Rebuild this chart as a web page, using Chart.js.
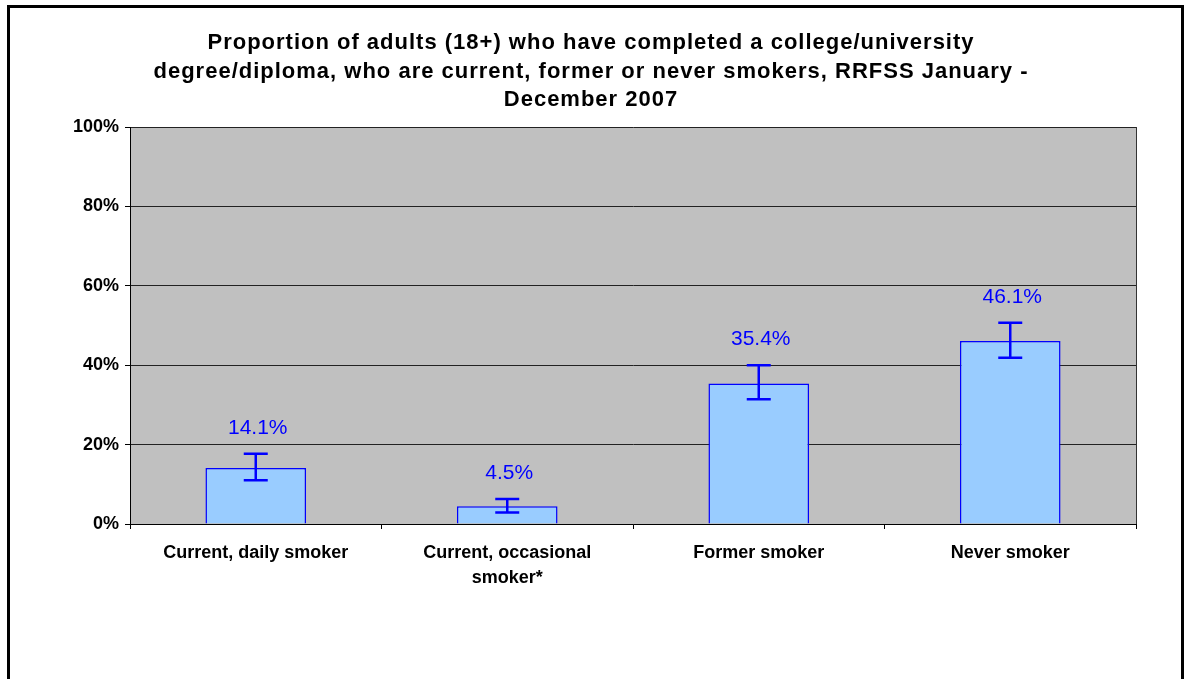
<!DOCTYPE html>
<html>
<head>
<meta charset="utf-8">
<script src="https://cdn.jsdelivr.net/npm/chart.js@4.4.0/dist/chart.umd.min.js"></script>
<style>
  html, body { margin:0; padding:0; background:#fff; overflow:hidden; }
  #wrap { position:relative; width:1187px; height:679px; }
  #frame { position:absolute; left:7px; top:5px; width:1177px; height:700px; border:3px solid #000; box-sizing:border-box; border-bottom:none; pointer-events:none; }
  canvas { position:absolute; left:0; top:0; }
</style>
</head>
<body>
<div id="wrap">
  <canvas id="chart" width="1187" height="679"></canvas>
  <div id="frame"></div>
</div>
<script>
const titleLines = [
  'Proportion of adults (18+) who have completed a college/university',
  'degree/diploma, who are current, former or never smokers, RRFSS January -',
  'December 2007'
];
const categories = ['Current, daily smoker', ['Current, occasional', 'smoker*'], 'Former smoker', 'Never smoker'];
const values = [14.1, 4.5, 35.4, 46.1];
const lowerCI = [11.0, 2.9, 31.4, 41.9];
const upperCI = [17.7, 6.3, 40.0, 50.7];
const yTicks = [0, 20, 40, 60, 80, 100];

const FONT = "'Liberation Sans', Arial, sans-serif";

// grey plot area, right frame line and the title
const plotBg = {
  id: 'plotBg',
  beforeDraw(c){
    const a = c.chartArea, ctx = c.ctx;
    ctx.save();
    ctx.fillStyle = '#C0C0C0';
    ctx.fillRect(a.left, a.top, a.right - a.left, a.bottom - a.top);
    ctx.restore();
  },
  afterDraw(c){
    const a = c.chartArea, ctx = c.ctx;
    ctx.save();
    ctx.strokeStyle = '#333';
    ctx.lineWidth = 1;
    ctx.beginPath();
    ctx.moveTo(Math.round(a.right) + 0.5, a.top);
    ctx.lineTo(Math.round(a.right) + 0.5, a.bottom);
    ctx.stroke();
    // title
    ctx.fillStyle = '#000';
    ctx.font = 'bold 22px ' + FONT;
    ctx.letterSpacing = '1px';
    ctx.textAlign = 'center';
    ctx.textBaseline = 'middle';
    titleLines.forEach((t, i) => ctx.fillText(t, 591, 43 + i * 28.5));
    ctx.restore();
  }
};

// error bars and value labels
const errBars = {
  id: 'errBars',
  afterDatasetsDraw(c){
    const ctx = c.ctx, y = c.scales.y;
    const meta = c.getDatasetMeta(0);
    ctx.save();
    ctx.strokeStyle = '#0000FF';
    ctx.lineWidth = 2.5;
    meta.data.forEach((bar, i) => {
      const x = bar.x, yt = y.getPixelForValue(upperCI[i]), yb = y.getPixelForValue(lowerCI[i]);
      ctx.beginPath();
      ctx.moveTo(x, yt); ctx.lineTo(x, yb);
      ctx.moveTo(x - 12, yt); ctx.lineTo(x + 12, yt);
      ctx.moveTo(x - 12, yb); ctx.lineTo(x + 12, yb);
      ctx.stroke();
      ctx.fillStyle = '#0000FF';
      ctx.font = '21px ' + FONT;
      ctx.textAlign = 'center';
      ctx.textBaseline = 'middle';
      ctx.fillText(values[i].toFixed(1) + '%', x + 2, yt - 26);
    });
    ctx.restore();
  }
};

new Chart(document.getElementById('chart'), {
  type: 'bar',
  data: {
    labels: categories,
    datasets: [{
      data: values,
      backgroundColor: '#99CCFF',
      borderColor: '#0000FF',
      borderWidth: 1.5,
      barPercentage: 0.4,
      categoryPercentage: 1
    }]
  },
  options: {
    responsive: false,
    animation: false,
    layout: { padding: { left: 0, right: 51, top: 127, bottom: 0 } },
    plugins: {
      legend: { display: false },
      tooltip: { enabled: false },
      title: { display: false }
    },
    scales: {
      y: {
        min: 0, max: 100,
        afterFit(s){ s.width = 130; },
        afterBuildTicks(s){ s.ticks = yTicks.map(v => ({ value: v })); },
        ticks: { color: '#000', padding: 6, font: { family: FONT, size: 18, weight: 'bold' }, callback: v => v + '%' },
        grid: { color: '#222', lineWidth: 1, tickLength: 5, tickColor: '#000' },
        border: { color: '#000', width: 1 }
      },
      x: {
        afterFit(s){ s.height = 155; },
        ticks: { color: '#000', padding: 11, maxRotation: 0, autoSkip: false, font: { family: FONT, size: 18, weight: 'bold', lineHeight: 1.4 } },
        grid: { drawOnChartArea: false, offset: true, tickLength: 5, color: '#000' },
        border: { color: '#000', width: 1 }
      }
    }
  },
  plugins: [plotBg, errBars]
});
</script>
</body>
</html>
